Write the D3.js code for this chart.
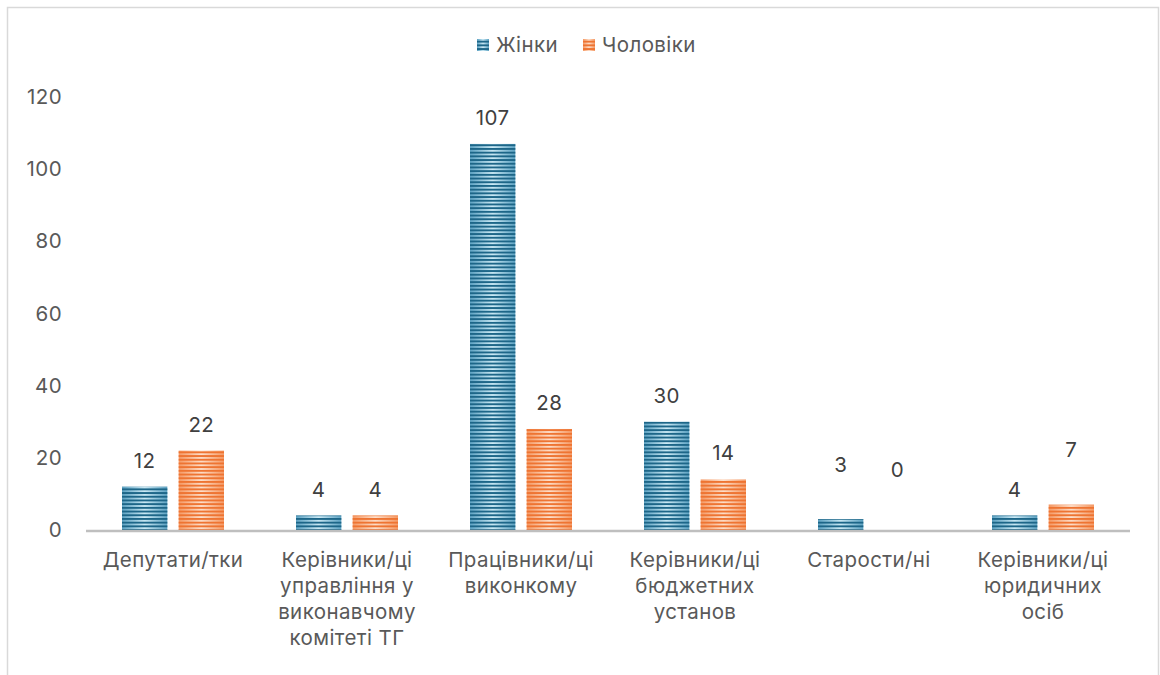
<!DOCTYPE html>
<html><head><meta charset="utf-8">
<script src="https://cdn.jsdelivr.net/npm/d3@7"></script>
<style>body{margin:0;background:#fff}svg{display:block}text{font-family:"Inter","Noto Sans",sans-serif;letter-spacing:0.4px}</style>
</head><body><svg id="c" width="1160" height="675"></svg>
<script>
const categories = [
  ["Депутати/тки"],
  ["Керівники/ці","управління у","виконавчому","комітеті ТГ"],
  ["Працівники/ці","виконкому"],
  ["Керівники/ці","бюджетних","установ"],
  ["Старости/ні"],
  ["Керівники/ці","юридичних","осіб"]
];
const seriesNames = ["Жінки","Чоловіки"];
const women = [12, 4, 107, 30, 3, 4];
const men = [22, 4, 28, 14, 0, 7];
const yTicks = [0, 20, 40, 60, 80, 100, 120];

// layout
const svg = d3.select("#c");
const FS = 20.5;
const m = {left: 86, right: 1130, top: 97, bottom: 530};
const colors = [{dark:"#1d6688", mid:"#5fa4c4", light:"#cdebf6"},{dark:"#ee7432", mid:"#f59a66", light:"#fde0cc"}];
// manual label nudges (layout only)
const labelLift = {"4-0":28,"4-1":34,"5-1":29};

svg.append("rect").attr("x",7.5).attr("y",7.5).attr("width",1151).attr("height",700)
  .attr("fill","#fff").attr("stroke","#d9d9d9").attr("stroke-width",1.5);

const defs = svg.append("defs");
colors.forEach((c,i)=>{
  const g = defs.append("linearGradient").attr("id","g"+i).attr("x1","0").attr("x2","1").attr("y1","0").attr("y2","0");
  g.append("stop").attr("offset","0").attr("stop-color",c.mid);
  g.append("stop").attr("offset","0.5").attr("stop-color",c.light);
  g.append("stop").attr("offset","1").attr("stop-color",c.mid);
  const p = defs.append("pattern").attr("id","p"+i).attr("patternUnits","userSpaceOnUse")
    .attr("width",10).attr("height",3.7);
  p.append("rect").attr("x",0).attr("y",0).attr("width",10).attr("height",1.9).attr("fill",c.dark);
});

const x0 = d3.scaleBand().domain(d3.range(categories.length)).range([m.left, m.right]);
const x1 = d3.scaleBand().domain([0,1]).range([x0.bandwidth()/2-51, x0.bandwidth()/2+51]).paddingInner(0.2);
const y = d3.scaleLinear().domain([0,120]).range([m.bottom, m.top]);

// y axis labels
const yAxis = svg.append("g").attr("transform",`translate(${62},0)`)
  .call(d3.axisLeft(y).tickValues(yTicks).tickSize(0).tickPadding(0));
yAxis.select(".domain").remove();
yAxis.selectAll("text").attr("font-size",FS).attr("fill","#595959").attr("font-family","Inter, 'Noto Sans', sans-serif");

const data = [women, men];
categories.forEach((cat,ci)=>{
  const g = svg.append("g").attr("transform",`translate(${x0(ci)},0)`);
  data.forEach((vals,si)=>{
    const v = vals[ci];
    const bx = x1(si), bw = x1.bandwidth();
    if (v > 0) {
      g.append("rect").attr("x",bx).attr("y",y(v)).attr("width",bw).attr("height",y(0)-y(v)).attr("fill",`url(#g${si})`);
      g.append("rect").attr("x",bx).attr("y",y(v)).attr("width",bw).attr("height",y(0)-y(v)).attr("fill",`url(#p${si})`);
    }
    const lift = labelLift[ci+"-"+si] || 0;
    g.append("text").attr("x",bx+bw/2).attr("y",y(v)-19-lift).attr("text-anchor","middle")
      .attr("font-size",FS).attr("fill","#404040").text(v);
  });
  const t = g.append("text").attr("x",x0.bandwidth()/2).attr("y",567).attr("text-anchor","middle")
    .attr("font-size",FS).attr("fill","#595959");
  cat.forEach((line,li)=>t.append("tspan").attr("x",x0.bandwidth()/2).attr("dy",li?26:0).text(line));
});

svg.append("line").attr("x1",m.left).attr("x2",m.right).attr("y1",y(0)+1).attr("y2",y(0)+1)
  .attr("stroke","#bfbfbf").attr("stroke-width",2.5);

// legend
const leg = svg.append("g");
const legItems = [{x:477,t:496},{x:583,t:602}];
seriesNames.forEach((n,i)=>{
  leg.append("rect").attr("x",legItems[i].x).attr("y",39).attr("width",12).attr("height",12).attr("fill",`url(#g${i})`);
  leg.append("rect").attr("x",legItems[i].x).attr("y",39).attr("width",12).attr("height",12).attr("fill",`url(#p${i})`);
  leg.append("text").attr("x",legItems[i].t).attr("y",52).attr("font-size",FS).attr("fill","#595959").text(n);
});
</script></body></html>
